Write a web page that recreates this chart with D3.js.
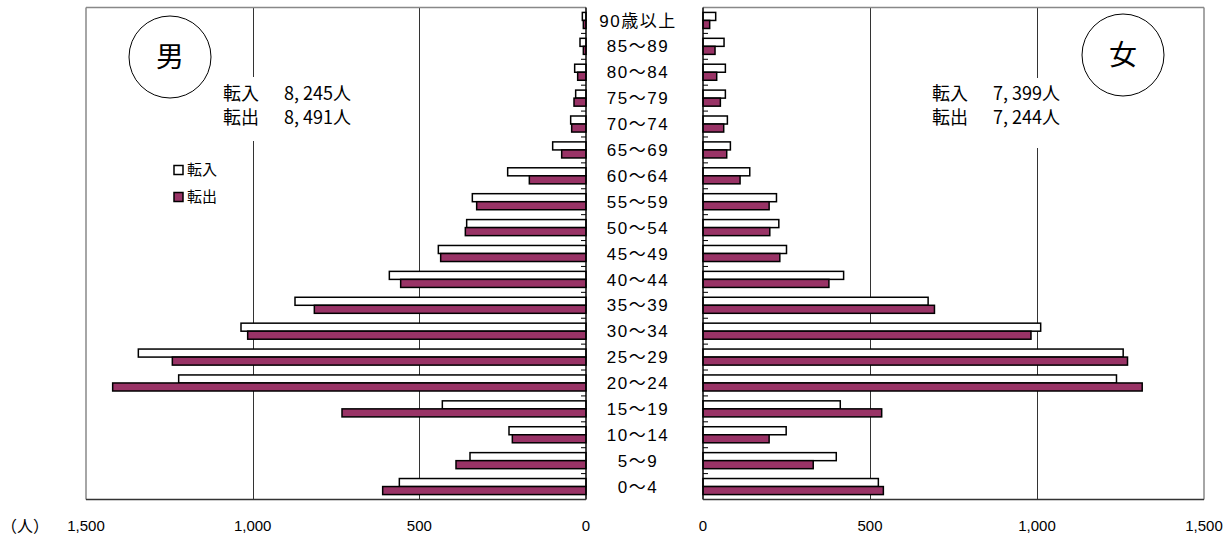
<!DOCTYPE html>
<html>
<head>
<meta charset="utf-8">
<script src="https://cdn.jsdelivr.net/npm/d3@7"></script>
<style>
  body { margin: 0; background: #fff; }
  text { font-family: "Liberation Sans", "Noto Sans CJK JP", sans-serif; }
  .jp { font-family: "Noto Sans CJK JP", sans-serif; }
</style>
</head>
<body>
<div id="chart-area"></div>
<script>
// age groups, bottom to top as in the chart
const ages = ["0～4", "5～9", "10～14", "15～19", "20～24", "25～29", "30～34", "35～39",
  "40～44", "45～49", "50～54", "55～59", "60～64", "65～69", "70～74", "75～79",
  "80～84", "85～89", "90歳以上"];

// male
const maleIn  = [560, 348, 231, 431, 1222, 1343, 1035, 873, 590, 443, 358, 341, 235, 100, 46, 31, 34, 18, 11];
const maleOut = [610, 390, 221, 732, 1420, 1241, 1015, 815, 556, 436, 362, 328, 170, 73, 43, 36, 25, 8, 8];
// female
const femaleIn  = [525, 399, 249, 411, 1238, 1258, 1011, 674, 421, 250, 227, 220, 140, 82, 73, 67, 67, 63, 38];
const femaleOut = [540, 330, 198, 535, 1315, 1271, 982, 693, 377, 230, 200, 198, 111, 71, 62, 52, 41, 36, 20];

const xTicks = [0, 500, 1000, 1500];
const totals = {male: ["8, 245人", "8, 491人"], female: ["7, 399人", "7, 244人"]};

const W = 1230, H = 541;
const plotTop = 7.5, plotBottom = 499.5;
const purple = "#993366";

const svg = d3.select("#chart-area").append("svg")
  .attr("width", W)
  .attr("height", H);

// scales
const xL = d3.scaleLinear().domain([0, 1500]).range([586, 86]);
const xR = d3.scaleLinear().domain([0, 1500]).range([703, 1204]);

const y = d3.scaleBand()
  .domain(ages.slice().reverse())
  .range([plotTop, plotBottom])
  .paddingInner(0.38)
  .paddingOuter(0.19);

const ySub = d3.scaleBand()
  .domain(["in", "out"])
  .range([0, y.bandwidth()]);

const fmt = d3.format(",");

function panel(x, inVals, outVals, side) {
  const g = svg.append("g");
  const x0 = x(0), x1 = x(1500);

  // gridlines
  g.selectAll(".grid").data([500, 1000]).enter().append("line")
    .attr("x1", d => Math.round(x(d)) + 0.5)
    .attr("x2", d => Math.round(x(d)) + 0.5)
    .attr("y1", plotTop)
    .attr("y2", plotBottom)
    .attr("stroke", "#333")
    .attr("stroke-width", 1);

  // frame: outer side and top in grey
  g.append("line")
    .attr("x1", x1).attr("x2", x1).attr("y1", plotTop).attr("y2", plotBottom)
    .attr("stroke", "#888").attr("stroke-width", 1.5);
  g.append("line")
    .attr("x1", Math.min(x0, x1)).attr("x2", Math.max(x0, x1)).attr("y1", plotTop).attr("y2", plotTop)
    .attr("stroke", "#888").attr("stroke-width", 1.5);

  // bars
  const rows = ages.map((a, i) => ({age: a, vin: inVals[i], vout: outVals[i]}));
  const grp = g.selectAll(".row").data(rows).enter().append("g")
    .attr("transform", d => `translate(0, ${y(d.age)})`);

  grp.append("rect")
    .attr("x", d => Math.min(x0, x(d.vin)))
    .attr("y", ySub("in"))
    .attr("width", d => Math.abs(x(d.vin) - x0))
    .attr("height", ySub.bandwidth())
    .attr("fill", "#fff")
    .attr("stroke", "#000")
    .attr("stroke-width", 1.5);

  grp.append("rect")
    .attr("x", d => Math.min(x0, x(d.vout)))
    .attr("y", ySub("out"))
    .attr("width", d => Math.abs(x(d.vout) - x0))
    .attr("height", ySub.bandwidth())
    .attr("fill", purple)
    .attr("stroke", "#000")
    .attr("stroke-width", 1.5);

  // small ticks between age groups on the zero axis
  const step = y.step();
  g.selectAll(".tk").data(ages.slice(1)).enter().append("line")
    .attr("x1", x0)
    .attr("x2", side === "left" ? x0 - 5 : x0 + 5)
    .attr("y1", d => y(d) + y.bandwidth() + (step - y.bandwidth()) / 2)
    .attr("y2", d => y(d) + y.bandwidth() + (step - y.bandwidth()) / 2)
    .attr("stroke", "#000");

  // axes lines (zero axis and bottom)
  g.append("line")
    .attr("x1", x0).attr("x2", x0).attr("y1", plotTop).attr("y2", plotBottom)
    .attr("stroke", "#000").attr("stroke-width", 1.5);
  g.append("line")
    .attr("x1", Math.min(x0, x1)).attr("x2", Math.max(x0, x1)).attr("y1", plotBottom).attr("y2", plotBottom)
    .attr("stroke", "#333").attr("stroke-width", 1.5);

  // tick labels
  g.selectAll(".xl").data(xTicks).enter().append("text")
    .attr("x", d => x(d))
    .attr("y", 531)
    .attr("text-anchor", "middle")
    .attr("font-size", "15px")
    .text(d => fmt(d));
}

panel(xL, maleIn, maleOut, "left");
panel(xR, femaleIn, femaleOut, "right");

// age labels in the middle
svg.selectAll(".age").data(ages).enter().append("text")
  .attr("x", 638)
  .attr("y", d => y(d) + y.bandwidth() / 2)
  .attr("dy", "0.36em")
  .attr("text-anchor", "middle")
  .attr("font-size", "17px")
  .attr("letter-spacing", "1.5px")
  .text(d => d);

// totals boxes (white background breaks the 1,000 gridline)
function totalsBox(bx, by, bw, bh, tx, vals) {
  svg.append("rect").attr("x", bx).attr("y", by).attr("width", bw).attr("height", bh).attr("fill", "#fff");
  ["転入", "転出"].forEach((lab, i) => {
    svg.append("text").attr("class", "jp")
      .attr("x", tx).attr("y", 100 + i * 24)
      .attr("font-size", "18px")
      .text(lab);
    svg.append("text").attr("class", "jp")
      .attr("x", tx + 61).attr("y", 100 + i * 24)
      .attr("font-size", "18px")
      .text(vals[i]);
  });
}
totalsBox(218, 77, 145, 64, 223, totals.male);
totalsBox(926, 78, 145, 70, 932, totals.female);

// gender circles
[[170, 57, "男"], [1123, 55, "女"]].forEach(([cx, cy, t]) => {
  svg.append("circle")
    .attr("cx", cx).attr("cy", cy).attr("r", 41)
    .attr("fill", "#fff").attr("stroke", "#000").attr("stroke-width", 1);
  svg.append("text").attr("class", "jp")
    .attr("x", cx).attr("y", cy)
    .attr("dy", "0.36em")
    .attr("text-anchor", "middle")
    .attr("font-size", "28px")
    .text(t);
});

// legend
[["転入", "#fff", 170], ["転出", purple, 197]].forEach(([lab, c, ly]) => {
  svg.append("rect")
    .attr("x", 174).attr("y", ly - 4.5).attr("width", 9).attr("height", 9)
    .attr("fill", c).attr("stroke", "#000").attr("stroke-width", 1.5);
  svg.append("text").attr("class", "jp")
    .attr("x", 187).attr("y", ly)
    .attr("dy", "0.36em")
    .attr("font-size", "15px")
    .text(lab);
});

// unit
svg.append("text").attr("class", "jp")
  .attr("x", 1).attr("y", 532)
  .attr("font-size", "16px")
  .text("（人）");
</script>
</body>
</html>
